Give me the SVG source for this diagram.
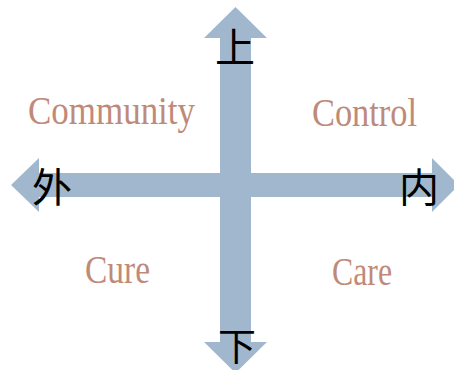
<svg xmlns="http://www.w3.org/2000/svg" width="454" height="370" viewBox="0 0 454 370">
<style>
.arrow{fill:#a0b7ce;}
.lbl{font-family:"Liberation Serif","Times New Roman",serif;fill:#c08a78;font-size:40px;}
.cjk{font-family:"Liberation Serif","Noto Sans CJK SC",serif;fill:#000;font-size:40px;text-anchor:middle;}
</style>
<rect width="454" height="370" fill="#fff"/>
<g id="connectors">
<path id="horizontal" class="arrow" d="M11,185 L39,158 L39,173 L432,173 L432,158 L459,185 L432,212 L432,197 L39,197 L39,212 Z"/>
<path id="vertical" class="arrow" d="M235.5,7 L267,38 L251,38 L251,342 L267,342 L235.5,373 L204,342 L220,342 L220,38 L204,38 Z"/>
</g>
<g id="up"><text class="cjk" x="235" y="62">上</text></g>
<g id="down"><text class="cjk" x="237" y="360" style="font-size:38px">下</text></g>
<g id="outer"><text class="cjk" x="52" y="202">外</text></g>
<g id="inner"><text class="cjk" x="419" y="202">内</text></g>
<g id="community"><text class="lbl" x="28" y="124" textLength="167" lengthAdjust="spacingAndGlyphs">Community</text></g>
<g id="control"><text class="lbl" x="312" y="126" textLength="105" lengthAdjust="spacingAndGlyphs">Control</text></g>
<g id="cure"><text class="lbl" x="85" y="283" textLength="65" lengthAdjust="spacingAndGlyphs">Cure</text></g>
<g id="care"><text class="lbl" x="332" y="285" textLength="60" lengthAdjust="spacingAndGlyphs">Care</text></g>
</svg>
